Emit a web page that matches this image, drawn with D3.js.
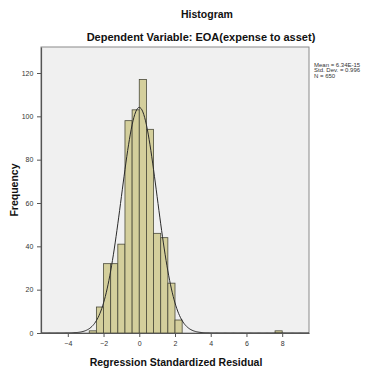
<!DOCTYPE html>
<html>
<head>
<meta charset="utf-8">
<script src="https://cdn.jsdelivr.net/npm/d3@7"></script>
<style>
  body { margin: 0; background: #fff; }
  text { font-family: "Liberation Sans", Arial, sans-serif; }
</style>
</head>
<body>
<script>
const binStarts = [-2.8, -2.4, -2.0, -1.6, -1.2, -0.8, -0.4, 0.0, 0.4, 0.8, 1.2, 1.6, 2.0, 7.6];
const counts = [1, 12, 32, 32, 41, 98, 103, 117, 94, 46, 44, 23, 6, 1];
const binWidth = 0.4;
const xTicks = [-4, -2, 0, 2, 4, 6, 8];
const yTicks = [0, 20, 40, 60, 80, 100, 120];
const stats = { mean: 6.34e-15, sd: 0.996, n: 650 };
const statLines = ["Mean = 6.34E-15", "Std. Dev. = 0.996", "N = 650"];

const width = 371, height = 374;
const margin = { top: 47, right: 62, bottom: 41, left: 41 };

const svg = d3.select("body").append("svg")
    .attr("width", width)
    .attr("height", height);

const x = d3.scaleLinear()
    .domain([-5.5, 9.5])
    .range([margin.left, width - margin.right]);

const y = d3.scaleLinear()
    .domain([0, 132])
    .range([height - margin.bottom, margin.top]);

// plot background
svg.append("rect")
    .attr("x", margin.left)
    .attr("y", margin.top)
    .attr("width", x.range()[1] - margin.left)
    .attr("height", y.range()[0] - margin.top)
    .attr("fill", "#f0f0f0")
    .attr("stroke", "#8a8a8a")
    .attr("stroke-width", 1);

// bars
svg.selectAll(".bar")
    .data(binStarts.map((s, i) => ({ start: s, count: counts[i] })))
    .enter().append("rect")
    .attr("class", "bar")
    .attr("x", d => x(d.start))
    .attr("y", d => y(d.count))
    .attr("width", d => x(d.start + binWidth) - x(d.start))
    .attr("height", d => y(0) - y(d.count))
    .attr("fill", "#d4cf9c")
    .attr("stroke", "#4a4a3a")
    .attr("stroke-width", 0.8);

// normal curve
const pdf = v => stats.n * binWidth / (stats.sd * Math.sqrt(2 * Math.PI)) *
    Math.exp(-0.5 * Math.pow((v - stats.mean) / stats.sd, 2));
const curvePts = d3.range(-5.5, 9.5001, 0.05).map(v => [v, pdf(v)]);
svg.append("path")
    .datum(curvePts)
    .attr("fill", "none")
    .attr("stroke", "#2a2a2a")
    .attr("stroke-width", 1)
    .attr("d", d3.line().x(d => x(d[0])).y(d => y(d[1])));

// axes
const xAxis = svg.append("g")
    .attr("transform", `translate(0,${y(0)})`)
    .call(d3.axisBottom(x).tickValues(xTicks).tickSize(4).tickSizeOuter(0));
const yAxis = svg.append("g")
    .attr("transform", `translate(${x.range()[0]},0)`)
    .call(d3.axisLeft(y).tickValues(yTicks).tickSize(4).tickSizeOuter(0));

[xAxis, yAxis].forEach(g => {
    g.select(".domain").attr("stroke", "#555").attr("stroke-width", 1.2);
    g.selectAll(".tick line").attr("stroke", "#555");
    g.selectAll(".tick text")
        .attr("fill", "#333")
        .style("font-size", "7px")
        .style("font-family", "'Liberation Sans', Arial, sans-serif");
});
xAxis.selectAll(".tick text").attr("dy", "0.9em");
yAxis.selectAll(".tick text").attr("dx", "-0.1em");

// titles
svg.append("text")
    .attr("x", 207).attr("y", 18)
    .attr("text-anchor", "middle")
    .style("font-size", "10.5px").style("font-weight", "bold")
    .attr("fill", "#111")
    .text("Histogram");

svg.append("text")
    .attr("x", 201).attr("y", 41)
    .attr("text-anchor", "middle")
    .style("font-size", "11px").style("font-weight", "bold")
    .attr("fill", "#111")
    .text("Dependent Variable: EOA(expense to asset)");

svg.append("text")
    .attr("x", 176).attr("y", 366)
    .attr("text-anchor", "middle")
    .style("font-size", "10.5px").style("font-weight", "bold")
    .attr("fill", "#111")
    .text("Regression Standardized Residual");

svg.append("text")
    .attr("transform", "translate(18,190) rotate(-90)")
    .attr("text-anchor", "middle")
    .style("font-size", "10.5px").style("font-weight", "bold")
    .attr("fill", "#111")
    .text("Frequency");

// stats legend
svg.append("g").selectAll("text")
    .data(statLines)
    .enter().append("text")
    .attr("x", 314)
    .attr("y", (d, i) => 67 + i * 5.3)
    .style("font-size", "6px")
    .attr("fill", "#333")
    .text(d => d);
</script>
</body>
</html>
